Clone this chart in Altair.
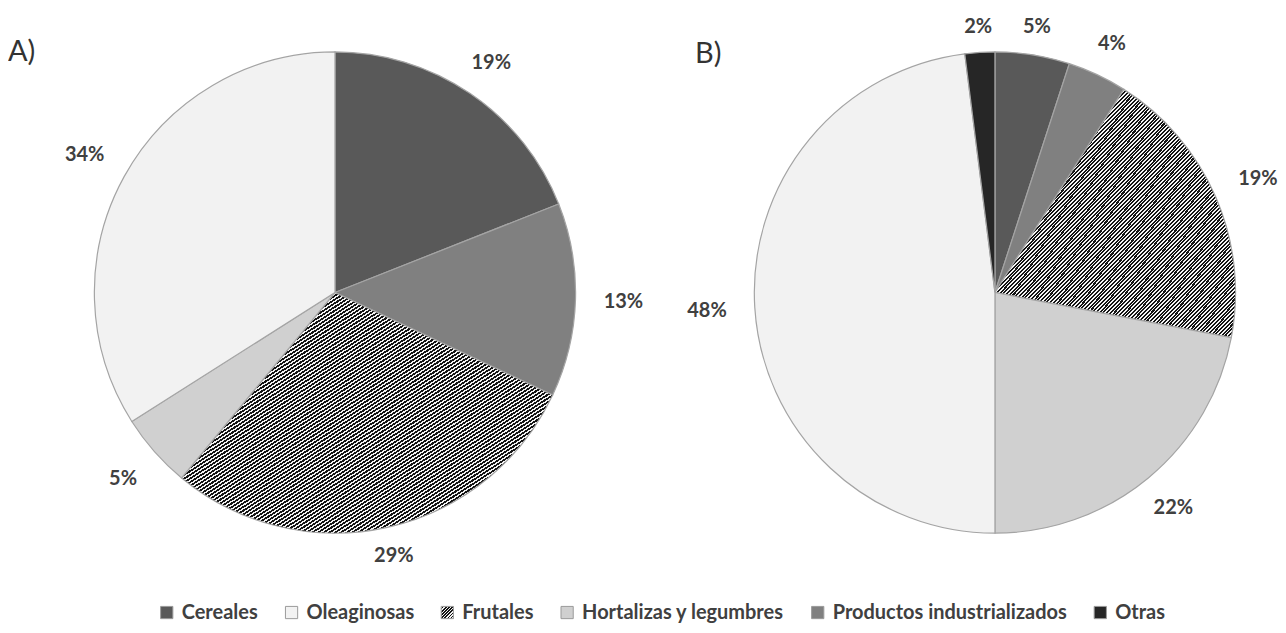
import math
import altair as alt
import pandas as pd

# ---------------- data ----------------
panels = ["A", "B"]
panel_titles = ["A)", "B)"]

categories_a = ["Cereales", "Productos industrializados", "Frutales",
                "Hortalizas y legumbres", "Oleaginosas"]
values_a = [19, 13, 29, 5, 34]

categories_b = ["Cereales", "Productos industrializados", "Frutales",
                "Hortalizas y legumbres", "Oleaginosas", "Otras"]
values_b = [5, 4, 19, 22, 48, 2]

legend_order = ["Cereales", "Oleaginosas", "Frutales",
                "Hortalizas y legumbres", "Productos industrializados", "Otras"]

rows = []
for panel, cats, vals in [("A", categories_a, values_a), ("B", categories_b, values_b)]:
    for i, (c, v) in enumerate(zip(cats, vals)):
        rows.append({"panel": panel, "category": c, "value": v, "order": i})
df = pd.DataFrame(rows)

# ---------------- hatch fill (diagonal stripes as a hard-stop gradient) ----------------
N_STRIPES = 130
DARK_SHARE = 0.55
stops = []
for i in range(N_STRIPES):
    a = i / N_STRIPES
    b = (i + (1 - DARK_SHARE)) / N_STRIPES
    c = (i + 1) / N_STRIPES
    stops.append("{offset:%.5f,color:'#f4f4f4'}" % a)
    stops.append("{offset:%.5f,color:'#f4f4f4'}" % b)
    stops.append("{offset:%.5f,color:'#141414'}" % b)
    stops.append("{offset:%.5f,color:'#141414'}" % c)
hatch_expr = "{gradient:'linear',x1:0,y1:0,x2:1,y2:1,stops:[" + ",".join(stops) + "]}"

color_range = ["#595959", "#f2f2f2", {"expr": hatch_expr}, "#d0d0d0", "#808080", "#262626"]

# ---------------- chart ----------------
base = alt.Chart(df).transform_window(
    cum="sum(value)",
    groupby=["panel"],
    sort=[alt.SortField("order", order="ascending")],
    frame=[None, 0],
).transform_calculate(
    start="datum.cum - datum.value",
    mid="datum.cum - datum.value / 2",
    label="datum.value + '%'",
    lr="265 + 24 * abs(sin(2 * PI * (datum.cum - datum.value / 2) / 100))",
)

x_enc = alt.X("panel:N",
              scale=alt.Scale(type="point", domain=panels, range=[327.5, 988.5], padding=0),
              axis=None)
theta_scale = alt.Scale(domain=[0, 100], range=[0, 2 * math.pi])

arcs = base.mark_arc(outerRadius=241, stroke="#a4a4a4", strokeWidth=1.2).encode(
    x=x_enc,
    theta=alt.Theta("start:Q", scale=theta_scale, stack=False),
    theta2="cum:Q",
    color=alt.Color(
        "category:N",
        scale=alt.Scale(domain=legend_order, range=color_range),
        legend=alt.Legend(
            title=None,
            orient="none",
            direction="horizontal",
            columns=6,
            legendX=149,
            legendY=595,
            symbolType="square",
            symbolSize=150,
            symbolStrokeColor="#9a9a9a",
            symbolStrokeWidth=1,
            labelFont="Lato",
            labelFontSize=20,
            labelFontWeight="bold",
            labelColor="#404040",
            labelLimit=600,
            labelOffset=5,
            columnPadding=23,
        ),
    ),
)

labels = base.mark_text(
    font="Lato", fontSize=20, fontWeight="bold", color="#404040",
    align="center", baseline="middle",
).encode(
    x=x_enc,
    theta=alt.Theta("mid:Q", scale=theta_scale, stack=False),
    radius=alt.Radius("lr:Q", scale=None),
    text="label:N",
)

title_a = alt.Chart(pd.DataFrame({"title": [panel_titles[0]]})).mark_text(
    align="left", baseline="middle", font="Lato", fontSize=29, color="#333333",
    x=0, y=44,
).encode(text="title:N")

title_b = alt.Chart(pd.DataFrame({"title": [panel_titles[1]]})).mark_text(
    align="left", baseline="middle", font="Lato", fontSize=29, color="#333333",
    x=688, y=46,
).encode(text="title:N")

chart = alt.layer(arcs, labels, title_a, title_b).properties(
    width=1270, height=569, padding=0, background="white"
).configure_view(stroke=None)

chart.save("out.html", embed_options={"renderer": "svg", "actions": False})
